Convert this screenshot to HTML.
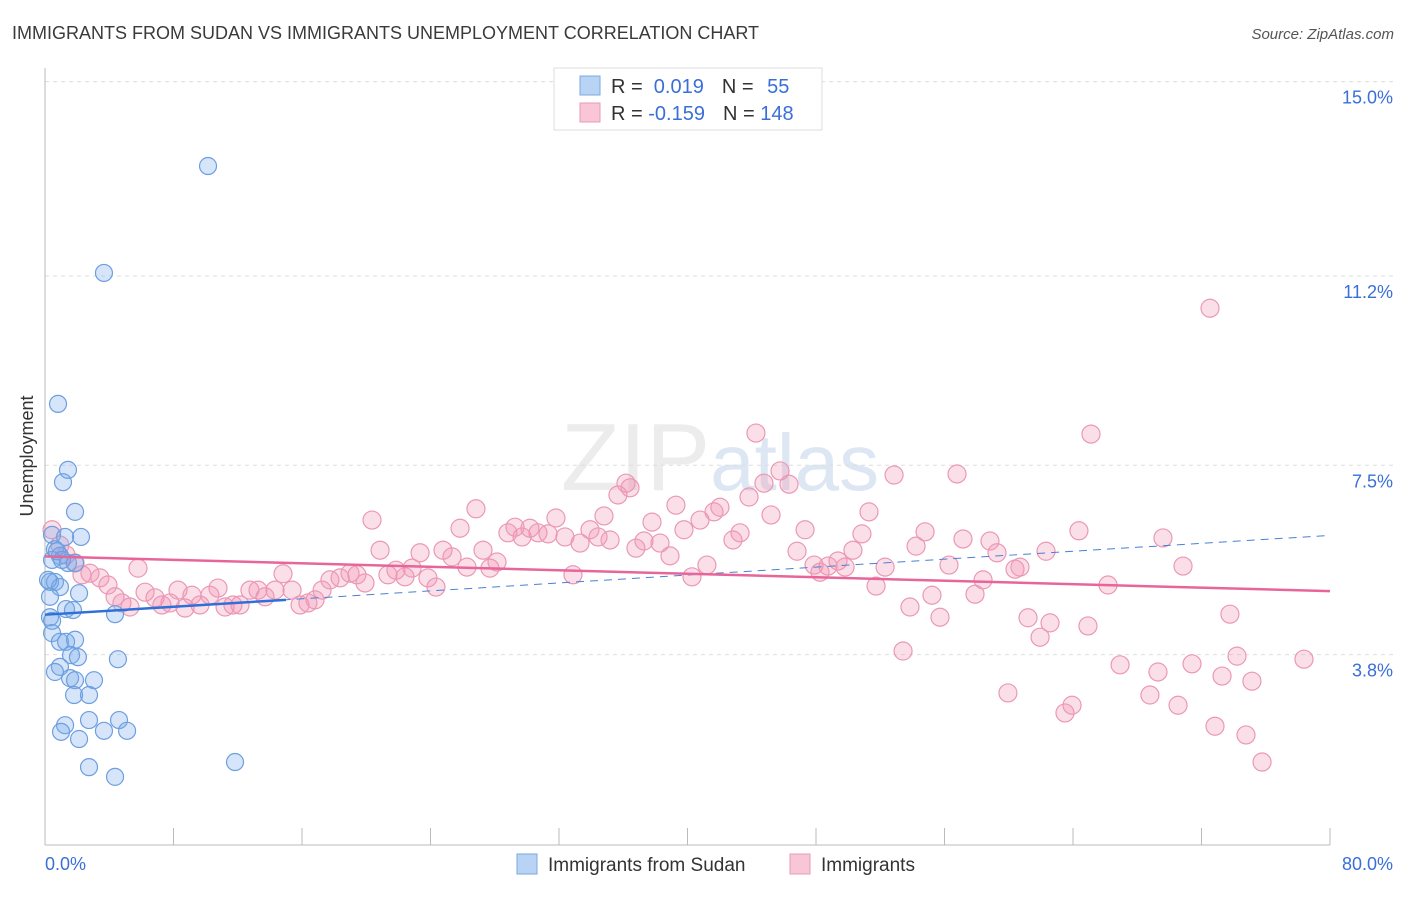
<!DOCTYPE html>
<html><head><meta charset="utf-8"><style>
body{margin:0;background:#fff;font-family:"Liberation Sans",sans-serif;}
svg text{font-family:"Liberation Sans",sans-serif;}
</style></head><body>
<svg id="chart" width="1406" height="892" xmlns="http://www.w3.org/2000/svg">
<text x="12" y="39" font-size="18" fill="#3a3a3a">IMMIGRANTS FROM SUDAN VS IMMIGRANTS UNEMPLOYMENT CORRELATION CHART</text>
<text x="1394" y="39" font-size="15" fill="#555" text-anchor="end" font-style="italic">Source: ZipAtlas.com</text>
<text x="720" y="490" font-size="96" fill="#ececec" text-anchor="middle" font-family="Liberation Serif">ZIP<tspan fill="#dde6f3" font-family="Liberation Sans" font-size="80">atlas</tspan></text>
<g id="grid"></g>
<g id="axes"></g>
<g id="pink"></g>
<g id="blue"></g>
<g id="trends"></g>
<text transform="translate(33,456) rotate(-90)" font-size="18" fill="#333" text-anchor="middle">Unemployment</text>
<g>
<rect x="554" y="68" width="268" height="62" fill="#fff" stroke="#ddd"/>
<rect x="580" y="76" width="20" height="19" fill="#b8d3f3" stroke="#7aa9e2"/>
<rect x="580" y="103" width="20" height="19" fill="#f8c6d6" stroke="#e99ab4"/>
<text x="611" y="93" font-size="20" fill="#333">R = <tspan fill="#3a6fd8">&#160;0.019</tspan><tspan dx="18">N = </tspan><tspan fill="#3a6fd8" dx="8">55</tspan></text>
<text x="611" y="120" font-size="20" fill="#333">R = <tspan fill="#3a6fd8">-0.159</tspan><tspan dx="18">N = </tspan><tspan fill="#3a6fd8">148</tspan></text>
</g>
<g>
<rect x="517" y="854" width="20" height="20" fill="#b8d3f3" stroke="#7aa9e2"/>
<text x="548" y="871" font-size="19" fill="#333">Immigrants from Sudan</text>
<rect x="790" y="854" width="20" height="20" fill="#f8c6d6" stroke="#e99ab4"/>
<text x="821" y="871" font-size="19" fill="#333">Immigrants</text>
</g>
</svg>
<script>
const yTicks=[3.8,7.5,11.2,15.0];
const yTickLabels=["3.8%","7.5%","11.2%","15.0%"];
const xTickLabels=["0.0%","80.0%"];
const bluePx=[[208,166],[104,273],[58,404],[68,470],[63,482],[75,512],[52,535],[81,537],[65,537],[55,549],[60,556],[52,560],[68,563],[75,563],[50,582],[55,582],[60,587],[48,580],[79,593],[50,597],[66,609],[73,610],[50,617],[52,621],[115,614],[52,633],[60,642],[66,642],[75,640],[71,655],[78,657],[118,659],[60,667],[55,672],[70,678],[75,680],[94,680],[74,695],[89,695],[65,725],[89,720],[119,720],[61,732],[104,731],[127,731],[79,739],[89,767],[235,762],[115,777],[57,551],[62,560]];
const pinkPx=[[52,530],[60,545],[66,555],[75,563],[82,575],[90,573],[100,578],[108,585],[115,597],[122,603],[130,607],[138,568],[145,592],[155,598],[162,605],[170,603],[178,590],[185,608],[192,595],[200,605],[210,595],[218,588],[225,607],[233,605],[240,605],[250,590],[258,590],[265,597],[275,590],[283,574],[292,590],[300,605],[308,603],[315,600],[322,590],[330,580],[340,578],[350,573],[357,575],[365,583],[372,520],[380,550],[388,575],[396,570],[405,577],[412,568],[420,553],[428,578],[436,587],[443,550],[452,557],[460,528],[467,567],[476,509],[483,550],[490,568],[497,562],[508,533],[515,527],[522,537],[530,528],[538,533],[548,534],[556,518],[565,537],[573,575],[580,543],[590,530],[598,537],[604,516],[610,540],[618,495],[626,483],[630,488],[636,548],[644,541],[652,522],[660,543],[670,556],[676,505],[684,530],[692,577],[700,520],[707,565],[714,512],[720,507],[733,540],[740,533],[749,497],[756,433],[764,483],[771,515],[780,471],[789,484],[797,551],[805,530],[814,565],[820,572],[828,566],[838,561],[845,567],[853,550],[862,534],[869,512],[876,586],[885,567],[894,475],[903,651],[910,607],[916,546],[925,532],[932,595],[940,617],[949,565],[957,474],[963,539],[975,594],[983,580],[990,541],[997,553],[1008,693],[1015,569],[1020,567],[1028,618],[1040,637],[1050,623],[1046,551],[1065,713],[1072,705],[1079,531],[1088,626],[1091,434],[1108,585],[1120,665],[1150,695],[1158,672],[1163,538],[1178,705],[1183,566],[1192,664],[1210,308],[1215,726],[1222,676],[1230,614],[1237,656],[1246,735],[1252,681],[1262,762],[1304,659]];
const sudanX=bluePx.map(p=>+((p[0]-45)*80/1285).toFixed(2));
const sudanY=bluePx.map(p=>+((849-p[1])/51.16).toFixed(2));
const immX=pinkPx.map(p=>+((p[0]-45)*80/1285).toFixed(2));
const immY=pinkPx.map(p=>+((849-p[1])/51.16).toFixed(2));
const blueTrend=[[0,4.58],[80,6.13]];
const pinkTrend=[[0,5.72],[80,5.04]];
const NS="http://www.w3.org/2000/svg";
const X=v=>45+v*1285/80, Y=v=>849-v*51.16;
function mk(tag,attrs,parent){const e=document.createElementNS(NS,tag);for(const k in attrs)e.setAttribute(k,attrs[k]);parent.appendChild(e);return e;}
const grid=document.getElementById('grid'),axes=document.getElementById('axes');
yTicks.forEach((t,i)=>{
 const l=mk('line',{x1:45,x2:1394,y1:Y(t),y2:Y(t),stroke:'#ddd','stroke-dasharray':'4,4'},grid);
 
 
 const tx=mk('text',{x:1393,y:Y(t)+22,'font-size':18,fill:'#3a6fd8','text-anchor':'end'},axes);
 tx.textContent=yTickLabels[i];
 
 
});
mk('line',{x1:45,x2:45,y1:68,y2:845,stroke:'#bbb'},axes);
mk('line',{x1:45,x2:1330,y1:845,y2:845,stroke:'#bbb'},axes);
for(let i=0;i<=10;i++){mk('line',{x1:45+128.5*i,x2:45+128.5*i,y1:828,y2:845,stroke:'#bbb'},axes);}
const xl0=mk('text',{x:45,y:870,'font-size':18,fill:'#3a6fd8'},axes);xl0.textContent=xTickLabels[0];


const xl1=mk('text',{x:1393,y:870,'font-size':18,fill:'#3a6fd8','text-anchor':'end'},axes);xl1.textContent=xTickLabels[1];


const pg=document.getElementById('pink');
immX.forEach((x,i)=>{const c=mk('circle',{cx:X(x),cy:Y(immY[i]),r:9,fill:'rgba(242,150,180,0.3)',stroke:'#eb98b4','stroke-width':1.2},pg);
 
 });
const bg=document.getElementById('blue');
sudanX.forEach((x,i)=>{const c=mk('circle',{cx:X(x),cy:Y(sudanY[i]),r:8.5,fill:'rgba(120,170,235,0.3)',stroke:'#6d9fe0','stroke-width':1.2},bg);
 
 });
const tg=document.getElementById('trends');
const bx=15,by=blueTrend[0][1]+(blueTrend[1][1]-blueTrend[0][1])*bx/80;
const bd=mk('line',{x1:X(blueTrend[0][0]),y1:Y(blueTrend[0][1]),x2:X(blueTrend[1][0]),y2:Y(blueTrend[1][1]),stroke:'#4a7fd6','stroke-width':1,'stroke-dasharray':'8,6'},tg);


const bs=mk('line',{x1:X(0),y1:Y(blueTrend[0][1]),x2:X(bx),y2:Y(by),stroke:'#2e6fd8','stroke-width':2.5},tg);


const pl=mk('line',{x1:X(pinkTrend[0][0]),y1:Y(pinkTrend[0][1]),x2:X(pinkTrend[1][0]),y2:Y(pinkTrend[1][1]),stroke:'#e8659a','stroke-width':2.5},tg);


</script>
</body></html>
